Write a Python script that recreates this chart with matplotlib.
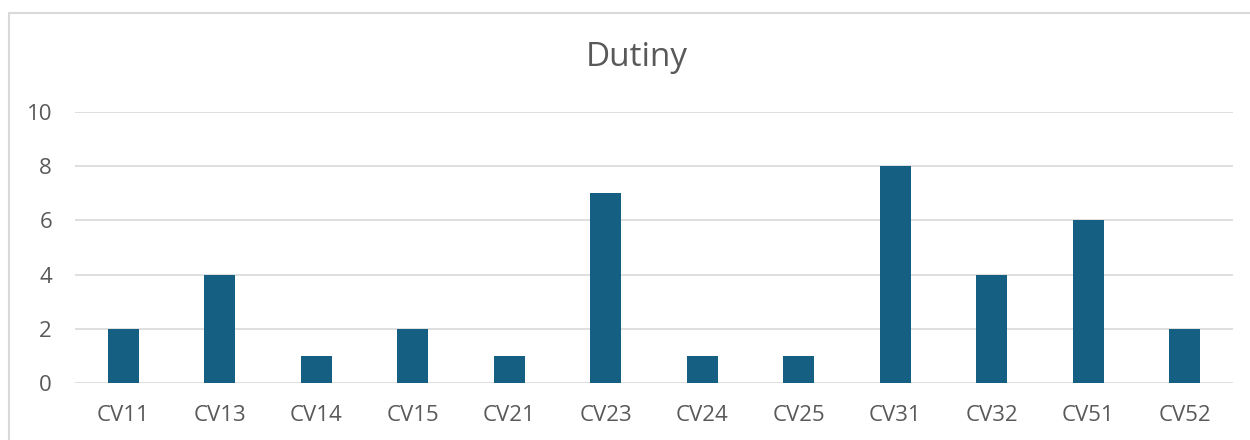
import numpy as np
from matplotlib import pyplot as plt
from matplotlib.patches import Rectangle

categories = ["CV11", "CV13", "CV14", "CV15", "CV21", "CV23",
              "CV24", "CV25", "CV31", "CV32", "CV51", "CV52"]
values = [2, 4, 1, 2, 1, 7, 1, 1, 8, 4, 6, 2]
y_ticks = [0, 2, 4, 6, 8, 10]

plt.rcParams['font.family'] = ['Open Sans', 'DejaVu Sans']
text_color = "#595959"
bar_color = "#156082"
grid_color = "#d9d9d9"

fig = plt.figure(figsize=(12.5, 4.4), dpi=100)
fig.patches.append(Rectangle((9 / 1250, -0.1), 1.2, 1 - 13 / 440 + 0.1,
                             transform=fig.transFigure, fill=False,
                             edgecolor=grid_color, linewidth=1.5))

ax = fig.add_axes([0.06, 1 - 383 / 440, 0.9264, (383 - 112) / 440])
x = np.arange(len(categories))
ax.bar(x, values, width=0.32, color=bar_color, zorder=3)

ax.set_xlim(-0.5, len(categories) - 0.5)
ax.set_ylim(0, 10)
ax.set_yticks(y_ticks)
ax.set_xticks(x)
ax.set_xticklabels(categories)
ax.tick_params(axis="both", length=0, colors=text_color, labelsize=16)
ax.tick_params(axis="y", pad=16.5)
ax.tick_params(axis="x", pad=16)
ax.grid(axis="y", color=grid_color, linewidth=1.2, zorder=0)
for s in ax.spines.values():
    s.set_visible(False)

fig.text(637 / 1250, 1 - 57 / 440, "Dutiny", ha="center", va="center",
         fontsize=24, color=text_color)

plt.savefig("out.png", dpi=100)
